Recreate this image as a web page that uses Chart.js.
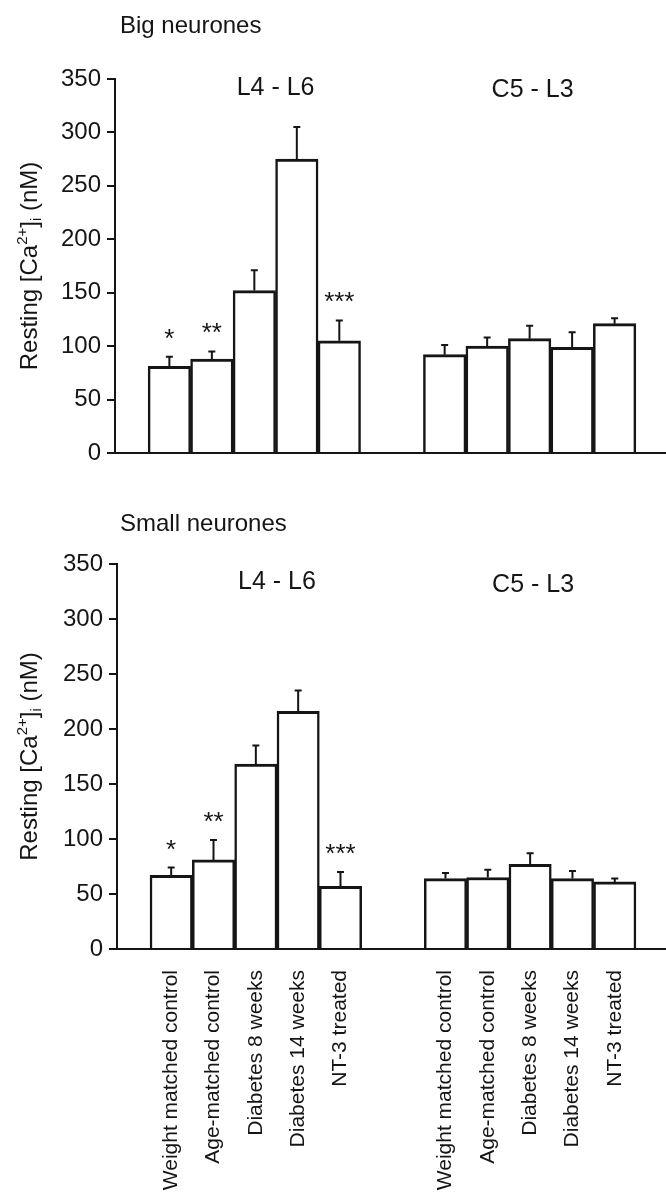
<!DOCTYPE html>
<html>
<head>
<meta charset="utf-8">
<script src="https://cdn.jsdelivr.net/npm/chart.js@4.4.1/dist/chart.umd.min.js"></script>
<style>
  html, body { margin: 0; padding: 0; background: #fff; }
  #wrap { position: relative; width: 666px; height: 1199px; }
  .panel { position: absolute; left: 0; width: 666px; }
  #bigPanel { top: 0; height: 480px; }
  #smallPanel { top: 480px; height: 719px; }
</style>
</head>
<body>
<div id="wrap">
  <div class="panel" id="bigPanel"><canvas id="bigChart"></canvas></div>
  <div class="panel" id="smallPanel"><canvas id="smallChart"></canvas></div>
</div>
<script>
const GROUPS = ["L4 - L6", "C5 - L3"];
const CONDITIONS = ["Weight matched control", "Age-matched control", "Diabetes 8 weeks", "Diabetes 14 weeks", "NT-3 treated"];
const Y_TICKS = [0, 50, 100, 150, 200, 250, 300, 350];

// big neurones
const bigL4L6 = [81, 88, 152, 275, 105];
const bigL4L6Err = [9, 7, 19, 30, 19];
const bigC5L3 = [92, 100, 107, 99, 121];
const bigC5L3Err = [9, 8, 12, 14, 5];
const bigSig = ["*", "**", "", "", "***"];

// small neurones
const smallL4L6 = [67, 81, 168, 216, 57];
const smallL4L6Err = [7, 18, 17, 19, 13];
const smallC5L3 = [64, 65, 77, 64, 61];
const smallC5L3Err = [5, 7, 10, 7, 3];
const smallSig = ["*", "**", "", "", "***"];

// second group starts this many bar widths after the first one
const GROUP_GAP = 6.48;
const GROUP_LABEL_POS = [2.5, 8.55];

const FONT = "'Liberation Sans', Arial, sans-serif";
const INK = "#151515";

function barPos(i, g) {
  return i + g * GROUP_GAP;
}

const errorBars = {
  id: "errorBars",
  afterDatasetsDraw(chart) {
    const { ctx } = chart;
    const y = chart.scales.y;
    const meta = chart.getDatasetMeta(0);
    const data = chart.data.datasets[0].data;
    ctx.save();
    ctx.strokeStyle = INK;
    ctx.fillStyle = INK;
    ctx.lineWidth = 2;
    meta.data.forEach((bar, i) => {
      const d = data[i];
      const top = y.getPixelForValue(d.y + d.err);
      ctx.beginPath();
      ctx.moveTo(bar.x, bar.y);
      ctx.lineTo(bar.x, top);
      ctx.moveTo(bar.x - 3.5, top);
      ctx.lineTo(bar.x + 3.5, top);
      ctx.stroke();
      if (d.sig) {
        ctx.font = "26px " + FONT;
        ctx.textAlign = "center";
        ctx.textBaseline = "alphabetic";
        ctx.fillText(d.sig, bar.x, top - 10);
      }
    });
    ctx.restore();
  }
};

const panelText = {
  id: "panelText",
  afterDraw(chart, args, opts) {
    const { ctx, chartArea } = chart;
    const x = chart.scales.x;
    const y = chart.scales.y;
    ctx.save();
    ctx.fillStyle = INK;
    ctx.textBaseline = "alphabetic";

    ctx.font = "24px " + FONT;
    ctx.textAlign = "left";
    ctx.fillText(opts.title, 120, opts.titleY);

    ctx.font = "25px " + FONT;
    ctx.textAlign = "center";
    GROUPS.forEach((g, k) => {
      ctx.fillText(g, x.getPixelForValue(GROUP_LABEL_POS[k]), y.getPixelForValue(opts.groupLabelY[k]));
    });

    // y axis title with super- and subscript
    const parts = [
      { t: "Resting [Ca", size: 24, dy: 0 },
      { t: "2+", size: 15, dy: -10 },
      { t: "]", size: 24, dy: 0 },
      { t: "i", size: 15, dy: 4 },
      { t: " (nM)", size: 24, dy: 0 }
    ];
    let total = 0;
    parts.forEach((p) => {
      ctx.font = p.size + "px " + FONT;
      p.w = ctx.measureText(p.t).width;
      total += p.w;
    });
    ctx.translate(37, (chartArea.top + chartArea.bottom) / 2);
    ctx.rotate(-Math.PI / 2);
    ctx.textAlign = "left";
    let cx = -total / 2;
    parts.forEach((p) => {
      ctx.font = p.size + "px " + FONT;
      ctx.fillText(p.t, cx, p.dy);
      cx += p.w;
    });
    ctx.restore();
  }
};

function buildData(l4, l4Err, c5, c5Err, sig) {
  const pts = [];
  l4.forEach((v, i) => pts.push({ x: barPos(i, 0), y: v, err: l4Err[i], sig: sig[i] }));
  c5.forEach((v, i) => pts.push({ x: barPos(i, 1), y: v, err: c5Err[i], sig: "" }));
  return pts;
}

function tickPositions() {
  const pos = [];
  GROUPS.forEach((g, k) => CONDITIONS.forEach((c, i) => pos.push(barPos(i, k))));
  return pos;
}

function makeChart(id, cfg) {
  const data = buildData(cfg.l4, cfg.l4Err, cfg.c5, cfg.c5Err, cfg.sig);
  return new Chart(document.getElementById(id), {
    type: "bar",
    data: {
      datasets: [{
        data,
        backgroundColor: "#ffffff",
        borderColor: INK,
        borderWidth: { top: 3, left: 2.5, right: 2.5, bottom: 0 },
        borderSkipped: "bottom",
        barPercentage: 1,
        categoryPercentage: 1
      }]
    },
    options: {
      responsive: true,
      maintainAspectRatio: false,
      animation: false,
      layout: { padding: { top: cfg.padTop, right: 0, bottom: 0, left: 0 } },
      plugins: {
        legend: { display: false },
        tooltip: { enabled: false },
        panelText: { title: cfg.title, titleY: cfg.titleY, groupLabelY: cfg.groupLabelY }
      },
      scales: {
        x: {
          type: "linear",
          offset: false,
          bounds: "data",
          min: -1.28,
          max: 11.69,
          afterBuildTicks: (s) => { s.ticks = tickPositions().map((v) => ({ value: v })); },
          afterFit: (s) => { s.height = cfg.xHeight; },
          grid: { display: false, drawTicks: false, offset: false },
          border: { display: true, color: INK, width: 2 },
          ticks: {
            display: cfg.showLabels,
            autoSkip: false,
            minRotation: 90,
            maxRotation: 90,
            padding: 21,
            color: INK,
            font: { family: FONT, size: 21 },
            callback: (v, i) => CONDITIONS[i % CONDITIONS.length]
          }
        },
        y: {
          min: 0,
          max: 350,
          afterBuildTicks: (s) => { s.ticks = Y_TICKS.map((v) => ({ value: v })); },
          afterFit: (s) => { s.width = cfg.axisLeft; },
          grid: { drawOnChartArea: false, drawTicks: true, tickLength: 8, color: INK, lineWidth: 2 },
          border: { display: true, color: INK, width: 2 },
          ticks: { padding: 6, color: INK, font: { family: FONT, size: 24 } }
        }
      }
    },
    plugins: [errorBars, panelText]
  });
}

makeChart("bigChart", {
  l4: bigL4L6, l4Err: bigL4L6Err, c5: bigC5L3, c5Err: bigC5L3Err, sig: bigSig,
  title: "Big neurones", titleY: 33, groupLabelY: [335, 333],
  padTop: 79, axisLeft: 115, xHeight: 27, showLabels: false
});

makeChart("smallChart", {
  l4: smallL4L6, l4Err: smallL4L6Err, c5: smallC5L3, c5Err: smallC5L3Err, sig: smallSig,
  title: "Small neurones", titleY: 51, groupLabelY: [327, 325],
  padTop: 84, axisLeft: 117, xHeight: 250, showLabels: true
});
</script>
</body>
</html>
